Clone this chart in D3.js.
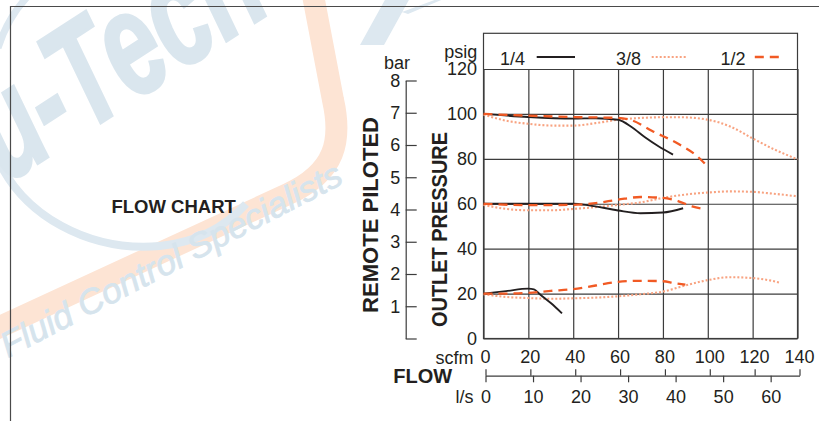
<!DOCTYPE html>
<html>
<head>
<meta charset="utf-8">
<script src="https://cdn.jsdelivr.net/npm/d3@7"></script>
<style>
  body { margin: 0; background: #fff; }
  svg text { font-family: "Liberation Sans", Arial, Helvetica, sans-serif; fill: #231f20; }
</style>
</head>
<body>
<div class="chart"></div>
<script>

// port sizes shown in the legend
var sizes = ["1/4", "3/8", "1/2"];

// [scfm, psig], one array per size and set pressure
var quarter100 = [[0, 100], [20, 98.6], [40, 97.9], [50, 98.1], [60, 97.4], [66, 94.2], [72, 89.6], [78, 85.6], [84.5, 81.9]];
var quarter60 = [[0, 60], [20, 60], [40, 60], [47, 59.3], [60, 57], [70, 55.8], [80, 56.1], [89, 58]];
var quarter20 = [[0, 20], [10, 21.1], [20, 22.2], [22.5, 21.9], [25, 19.8], [30, 15.8], [35, 11.2]];

var threeEighths100 = [[0, 99.7], [10, 97], [20, 95.6], [31, 94.8], [40, 94.8], [50, 95.9], [60, 97.4], [70, 98.2], [80, 98.5], [88, 98.5], [100, 97.4], [110, 94.4], [120, 89.1], [129, 84.5], [140, 79.8]];
var threeEighths60 = [[0, 59.5], [10, 57.7], [20, 57.1], [31, 57.1], [40, 57.7], [50, 58.5], [60, 59.5], [70, 60.6], [80, 62.6], [90, 64.1], [100, 65], [110, 65.5], [120, 65.3], [129, 64.5], [140, 63.3]];
var threeEighths20 = [[0, 19.7], [10, 18.5], [20, 18], [31, 17.7], [40, 17.9], [50, 18.2], [60, 18.8], [70, 19.7], [80, 20.9], [90, 23.6], [100, 26], [110, 27.3], [120, 26.9], [129, 25.6], [132, 24.9]];

var half100 = [[0, 100], [20, 99.2], [40, 98.6], [60, 98.2], [66, 97.2], [75, 92.5], [87, 86.6], [95, 81.4], [100, 76.5]];
var half60 = [[0, 60], [20, 59.4], [40, 59.5], [50, 60.3], [60, 61.8], [70, 63], [80, 62.6], [87, 61.1], [93, 58.8], [99, 57.6]];
var half20 = [[0, 20], [10, 20], [20, 20.3], [30, 21.2], [40, 22], [50, 23.6], [60, 25.2], [70, 25.7], [80, 25.5], [85, 24.7], [90, 24]];

// axis ticks
var psiTicks = [0, 20, 40, 60, 80, 100, 120];
var barTicks = [0, 1, 2, 3, 4, 5, 6, 7, 8];
var scfmTicks = [0, 20, 40, 60, 80, 100, 120, 140];
var lpsTicks = [0, 10, 20, 30, 40, 50, 60];
var SCFM_PER_LPS = 2.119;

var svgWidth = 819;
var svgHeight = 421;

var margin = { top: 69, left: 483.5 };
var width = 314;
var height = 269.5;
var legendRow = 35.7;   // strip above the 120 line that holds the legend

var svg = d3.select(".chart")
  .append("svg")
  .attr("width", svgWidth)
  .attr("height", svgHeight);

// faint company watermark behind the chart
var mark = svg.append("g");
mark.append("path")
  .attr("d", "M -20,336 L 288,194 C 336,172 342,140 333,100 L 312,-10")
  .attr("fill", "none")
  .attr("stroke", "#fde4d4")
  .attr("stroke-width", 22);
mark.append("path")
  .attr("d", "M -6,150 C 20,218 92,252 160,246 C 200,242 226,226 246,204")
  .attr("fill", "none")
  .attr("stroke", "#dde8f0")
  .attr("stroke-width", 8);
mark.append("path")
  .attr("d", "M -2,48 Q 8,16 30,-6")
  .attr("fill", "none")
  .attr("stroke", "#dde8f0")
  .attr("stroke-width", 7);
mark.append("path")
  .attr("d", "M 360,45 L 384,45 L 410,-2 L 386,-2 Z M 402,12 L 440,-2 L 446,-2 L 408,14 Z")
  .attr("fill", "#dde8f0");
mark.append("text")
  .attr("transform", "translate(-52,222) rotate(-33)")
  .attr("textLength", 390)
  .attr("lengthAdjust", "spacingAndGlyphs")
  .style("font-size", "148px")
  .style("font-weight", "bold")
  .style("font-style", "italic")
  .style("fill", "#dae6ee")
  .style("stroke", "#dae6ee")
  .style("stroke-width", 3)
  .text("Nu-Tech");
mark.append("text")
  .attr("transform", "translate(8,358) rotate(-27.5)")
  .attr("textLength", 380)
  .attr("lengthAdjust", "spacingAndGlyphs")
  .style("font-size", "35px")
  .style("font-style", "italic")
  .style("fill", "#d6e4ed")
  .style("stroke", "#d6e4ed")
  .style("stroke-width", 0.8)
  .text("Fluid Control Specialists");

// page frame
svg.append("path")
  .attr("d", "M 10.5,421 V 6.5 H 819")
  .attr("fill", "none")
  .attr("stroke", "#4a4a4a")
  .attr("stroke-width", 1.2);

svg.append("text")
  .attr("x", 111.5)
  .attr("y", 213.3)
  .style("font-size", "18.5px")
  .style("font-weight", "bold")
  .text("FLOW CHART");

var chartGroup = svg.append("g")
  .attr("transform", `translate(${margin.left}, ${margin.top})`);

// scales
var xScale = d3.scaleLinear().domain([0, 140]).range([0, width]);
var yScale = d3.scaleLinear().domain([0, 120]).range([height, 0]);
var barScale = d3.scaleLinear().domain([0, 8]).range([height, 11.5]);
var lpsScale = d3.scaleLinear().domain([0, 140 / SCFM_PER_LPS]).range([2, width + 2]);

function styleAxis(g, size) {
  g.attr("font-family", null).attr("font-size", null);
  g.selectAll("text").style("font-size", size).style("fill", "#231f20");
  g.selectAll("line, path").attr("stroke", "#3c3c3c").attr("stroke-width", 1.2);
}

// grid
chartGroup.append("g")
  .call(d3.axisLeft(yScale).tickValues(psiTicks).tickSize(-width).tickFormat(""))
  .call(g => g.select(".domain").remove())
  .call(g => g.selectAll("line").attr("stroke", "#3c3c3c").attr("stroke-width", 1.2));

chartGroup.append("g")
  .attr("transform", `translate(0, ${height})`)
  .call(d3.axisBottom(xScale).tickValues(scfmTicks).tickSize(-height).tickFormat(""))
  .call(g => g.select(".domain").remove())
  .call(g => g.selectAll("line").attr("stroke", "#3c3c3c").attr("stroke-width", 1.2));

chartGroup.append("rect")
  .attr("x", 0)
  .attr("y", -legendRow)
  .attr("width", width)
  .attr("height", height + legendRow)
  .attr("fill", "none")
  .attr("stroke", "#3c3c3c")
  .attr("stroke-width", 1.2);

// psig labels
chartGroup.append("g")
  .call(d3.axisLeft(yScale).tickValues(psiTicks).tickSize(0).tickPadding(6.5))
  .call(g => g.select(".domain").remove())
  .call(g => styleAxis(g, "18px"));

// bar axis
chartGroup.append("g")
  .attr("transform", "translate(-77.8, 0)")
  .call(d3.axisLeft(barScale).tickValues(barTicks).tickSizeInner(-11).tickSizeOuter(0).tickPadding(5.5)
    .tickFormat(d => d === 0 ? "" : d))
  .call(g => styleAxis(g, "18px"));

// scfm labels
chartGroup.append("g")
  .attr("transform", `translate(0, ${height})`)
  .call(d3.axisBottom(xScale).tickValues(scfmTicks).tickSize(0).tickPadding(12))
  .call(g => g.select(".domain").remove())
  .call(g => g.selectAll("text").attr("dx", "0.08em"))
  .call(g => styleAxis(g, "18px"));

// l/s scale under the scfm one
var dualY = 306.7;
chartGroup.append("g")
  .attr("transform", `translate(2, ${dualY})`)
  .call(d3.axisTop(xScale).tickValues(scfmTicks).tickSize(6.4).tickSizeOuter(0).tickFormat(""))
  .call(g => g.select(".domain").remove())
  .call(g => styleAxis(g, "18px"));

chartGroup.append("g")
  .attr("transform", `translate(0, ${dualY})`)
  .call(d3.axisBottom(lpsScale).tickValues(lpsTicks).tickSize(6.6).tickSizeOuter(0).tickPadding(8))
  .call(g => styleAxis(g, "18px"));

// axis titles
svg.append("text").attr("x", 410).attr("y", 68.5).attr("text-anchor", "end")
  .style("font-size", "18px").text("bar");
svg.append("text").attr("x", 477.3).attr("y", 57.5).attr("text-anchor", "end")
  .style("font-size", "18px").text("psig");
svg.append("text").attr("x", 473.5).attr("y", 363.8).attr("text-anchor", "end")
  .style("font-size", "18px").text("scfm");
svg.append("text").attr("x", 473.5).attr("y", 403).attr("text-anchor", "end")
  .style("font-size", "18px").text("l/s");
svg.append("text").attr("x", 393.3).attr("y", 382.7)
  .style("font-size", "20px").style("font-weight", "bold").text("FLOW");

svg.append("text")
  .attr("transform", "translate(378.3, 215) rotate(-90)")
  .attr("text-anchor", "middle")
  .attr("textLength", 196)
  .attr("lengthAdjust", "spacingAndGlyphs")
  .style("font-size", "22px")
  .style("font-weight", "bold")
  .text("REMOTE PILOTED");

svg.append("text")
  .attr("transform", "translate(447.3, 229.5) rotate(-90)")
  .attr("text-anchor", "middle")
  .attr("textLength", 195)
  .attr("lengthAdjust", "spacingAndGlyphs")
  .style("font-size", "21.5px")
  .style("font-weight", "bold")
  .text("OUTLET PRESSURE");

// curves
var lineStyle = {
  "1/4": { stroke: "#231f20", width: 1.9, dash: null },
  "3/8": { stroke: "#f8a381", width: 2.1, dash: "2,2" },
  "1/2": { stroke: "#f15a24", width: 2.3, dash: "9,6" }
};

var curves = [
  { size: "3/8", points: threeEighths100 },
  { size: "3/8", points: threeEighths60 },
  { size: "3/8", points: threeEighths20 },
  { size: "1/4", points: quarter100 },
  { size: "1/4", points: quarter60 },
  { size: "1/4", points: quarter20 },
  { size: "1/2", points: half100 },
  { size: "1/2", points: half60 },
  { size: "1/2", points: half20 }
];

var line = d3.line()
  .x(d => xScale(d[0]))
  .y(d => yScale(d[1]))
  .curve(d3.curveMonotoneX);

chartGroup.selectAll("path.curve")
  .data(curves)
  .enter()
  .append("path")
  .attr("class", "curve")
  .attr("d", d => line(d.points))
  .attr("fill", "none")
  .attr("stroke", d => lineStyle[d.size].stroke)
  .attr("stroke-width", d => lineStyle[d.size].width)
  .attr("stroke-dasharray", d => lineStyle[d.size].dash);

// legend inside the strip above the grid
var legendX = [16.5, 132.5, 237];
var legend = chartGroup.selectAll("g.legend")
  .data(sizes)
  .enter()
  .append("g")
  .attr("class", "legend")
  .attr("transform", (d, i) => `translate(${legendX[i]}, -12)`);

legend.append("text")
  .attr("y", 7.5)
  .style("font-size", "18px")
  .text(d => d);

legend.append("line")
  .attr("x1", (d, i) => [36.7, 35.7, 34.3][i])
  .attr("x2", (d, i) => [75, 70, 61][i])
  .attr("y1", 0)
  .attr("y2", 0)
  .attr("stroke", d => lineStyle[d].stroke)
  .attr("stroke-width", d => lineStyle[d].width)
  .attr("stroke-dasharray", d => lineStyle[d].dash);

</script>
</body>
</html>
